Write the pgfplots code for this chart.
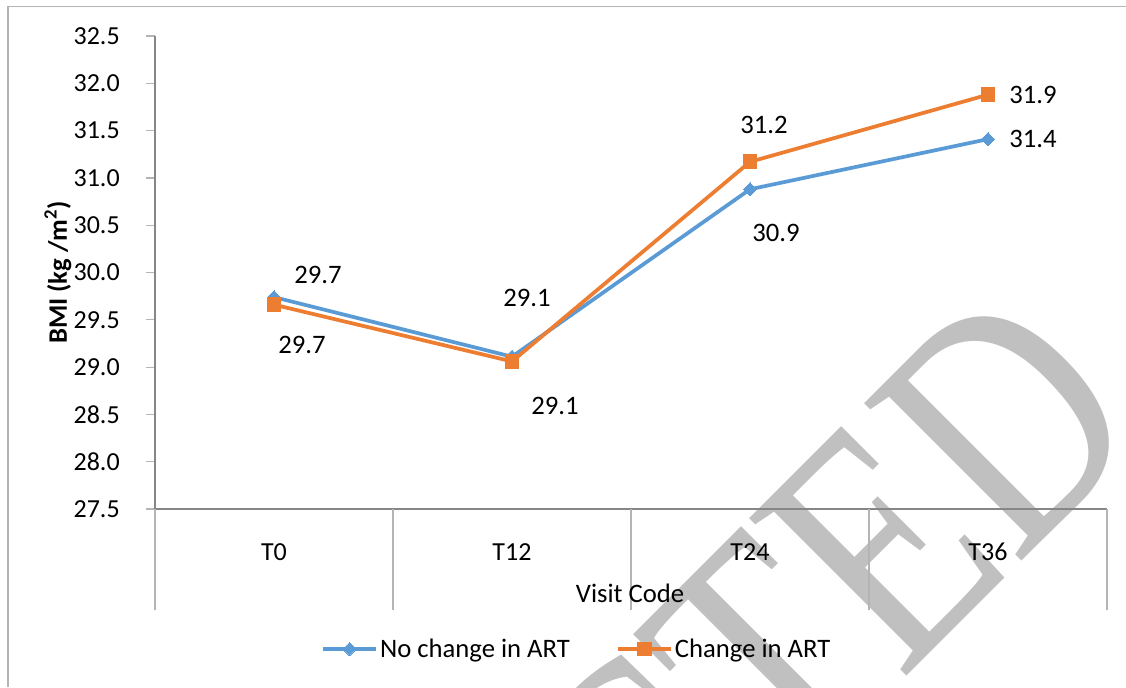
\documentclass[border=0pt]{standalone}
\usepackage{fontspec}
\setmainfont{Carlito}
\newfontfamily\wmfont{Liberation Serif}
\usepackage{pgfplots}
\usepackage{pgfplotstable}
\pgfplotsset{compat=1.18}

\definecolor{serblue}{HTML}{5B9BD5}
\definecolor{serorange}{HTML}{ED7D31}
\definecolor{axisgray}{HTML}{868686}
\definecolor{sepgray}{HTML}{B4B4B4}
\definecolor{wmgray}{HTML}{C0C0C0}

% dx, dy: label offsets in px
\pgfplotstableread{
x y dx dy
0 29.74 44 22
1 29.11 15 59
2 30.88 26 -44
3 31.41 45 0
}\nochange
\pgfplotstableread{
x y dx dy
0 29.66 28 -40
1 29.06 43 -45
2 31.17 14 37
3 31.88 45 0
}\change

\begin{document}
\begin{tikzpicture}
\useasboundingbox (0pt,0pt) rectangle (844.5pt,-515.25pt);
\begin{scope}
  \clip (0pt,0pt) rectangle (844.5pt,-515.25pt);
  \node[text=wmgray, font=\wmfont\fontsize{255}{255}\selectfont, anchor=base east,
        inner sep=0pt, rotate=45, xscale=0.78] at (864pt,-323.25pt) {RETRACTED};
\end{scope}
\draw[sepgray, line width=1.1pt] (6pt,-515.25pt) -- (6pt,-4.9pt) -- (844.5pt,-4.9pt);

\begin{axis}[
    at={(116.25pt,-381.75pt)}, anchor=south west,
    width=714pt, height=354.75pt, scale only axis,
    clip=false,
    xmin=-0.5, xmax=3.5, ymin=27.5, ymax=32.5,
    axis x line*=bottom, axis y line*=left,
    x axis line style={-, draw=axisgray, line width=1.5pt},
    y axis line style={-, draw=axisgray, line width=0.9pt},
    tick align=outside, major tick length=6.75pt,
    xtick={0,1,2,3}, xticklabels={T0,T12,T24,T36},
    xtick style={draw=none},
    extra x ticks={-0.5,0.5,1.5,2.5,3.5}, extra x tick labels={},
    extra x tick style={major tick length=76pt,
        xtick style={draw=sepgray, line width=0.8pt}},
    xticklabel style={anchor=center, yshift=-25.5pt},
    ytick distance=0.5,
    ytick style={draw=sepgray, line width=0.9pt},
    yticklabel style={/pgf/number format/.cd, fixed, fixed zerofill, precision=1, /tikz/.cd,
        anchor=east, inner sep=0pt, xshift=-19.5pt},
    /pgf/number format/assume math mode=true,
    tick label style={font=\fontsize{19.5}{23}\selectfont, text=black},
    xlabel={Visit Code},
    ylabel={\bfseries BMI (kg /m\textsuperscript{2})},
    every axis x label/.style={at={(axis description cs:0.499,-0.178)}, anchor=center,
        font=\fontsize{20}{24}\selectfont},
    every axis y label/.style={at={(axis description cs:-0.102,0.5)}, rotate=90, anchor=center,
        font=\fontsize{20}{24}\selectfont},
    legend style={at={(0.443,-0.296)}, anchor=center, draw=none, fill=none,
        legend columns=2, font=\fontsize{20}{24}\selectfont,
        /tikz/every even column/.append style={column sep=33pt},
        nodes={inner sep=1.5pt}},
    legend image code/.code={\draw[#1, mark repeat=2, mark phase=2]
        plot coordinates {(0pt,0pt) (20pt,0pt) (40pt,0pt)};},
    nodes near coords={\pgfmathprintnumber[fixed,fixed zerofill,precision=1]{\pgfplotspointmeta}},
    point meta=explicit,
    visualization depends on={\thisrow{dx} \as \dx},
    visualization depends on={\thisrow{dy} \as \dy},
    every node near coord/.style={anchor=center, inner sep=0pt,
        xshift={\dx*0.75pt}, yshift={\dy*0.75pt},
        font=\fontsize{20}{24}\selectfont, text=black},
]
\addplot[serblue, line width=2.8pt, mark=square*, mark size=3.5pt,
    mark options={rotate=45, solid, line width=0pt}]
    table[x=x, y=y, meta=y] {\nochange};
\addlegendentry{No change in ART}
\addplot[serorange, line width=2.8pt, mark=square*, mark size=5.2pt,
    mark options={solid, line width=0pt}]
    table[x=x, y=y, meta=y] {\change};
\addlegendentry{Change in ART}
\end{axis}
\end{tikzpicture}
\end{document}
